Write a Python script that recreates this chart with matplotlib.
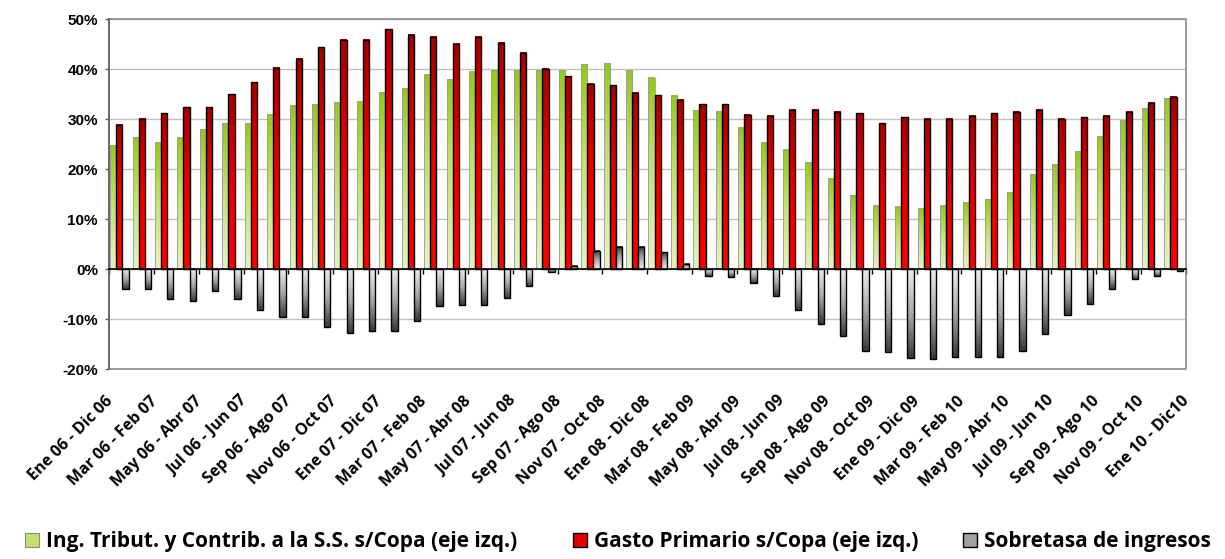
import numpy as np
import matplotlib
matplotlib.use("Agg")
import matplotlib.pyplot as plt
from matplotlib.patches import Patch, Rectangle
from matplotlib.colors import to_rgb
from matplotlib.transforms import blended_transform_factory

# rolling 12-month windows, % of GDP; one bar group per window
ingresos = [24.8, 26.3, 25.4, 26.3, 28.0, 29.2, 29.2, 31.0, 32.7, 33.0,
            33.3, 33.6, 35.4, 36.2, 38.9, 38.0, 39.5, 39.8, 39.8, 39.8,
            39.8, 41.0, 41.2, 39.8, 38.3, 34.7, 31.8, 31.6, 28.3, 25.3,
            23.9, 21.3, 18.1, 14.8, 12.7, 12.5, 12.1, 12.7, 13.4, 14.0,
            15.4, 19.0, 21.0, 23.6, 26.6, 29.8, 32.2, 34.2]
gasto = [28.9, 30.1, 31.2, 32.4, 32.4, 35.0, 37.4, 40.3, 42.1, 44.4,
         45.9, 45.9, 48.0, 46.9, 46.5, 45.1, 46.5, 45.3, 43.3, 40.1,
         38.6, 37.1, 36.8, 35.3, 34.8, 33.9, 33.0, 33.0, 30.9, 30.7,
         31.9, 31.9, 31.5, 31.2, 29.2, 30.4, 30.1, 30.1, 30.7, 31.2,
         31.5, 31.9, 30.1, 30.4, 30.7, 31.5, 33.3, 34.5]
sobretasa = [-4.0, -4.0, -6.0, -6.3, -4.3, -6.0, -8.1, -9.5, -9.5, -11.6,
             -12.7, -12.4, -12.4, -10.3, -7.4, -7.1, -7.1, -5.7, -3.3, -0.5,
             0.7, 3.7, 4.5, 4.5, 3.4, 1.1, -1.3, -1.6, -2.8, -5.3,
             -8.1, -10.9, -13.3, -16.3, -16.5, -17.8, -18.0, -17.5, -17.5, -17.5,
             -16.3, -13.0, -9.2, -6.9, -3.9, -1.9, -1.3, -0.4]

tick_labels = ["Ene 06 - Dic 06", "Mar 06 - Feb 07", "May 06 - Abr 07", "Jul 06 - Jun 07",
               "Sep 06 - Ago 07", "Nov 06 - Oct 07", "Ene 07 - Dic 07", "Mar 07 - Feb 08",
               "May 07 - Abr 08", "Jul 07 - Jun 08", "Sep 07 - Ago 08", "Nov 07 - Oct 08",
               "Ene 08 - Dic 08", "Mar 08 - Feb 09", "May 08 - Abr 09", "Jul 08 - Jun 09",
               "Sep 08 - Ago 09", "Nov 08 - Oct 09", "Ene 09 - Dic 09", "Mar 09 - Feb 10",
               "May 09 - Abr 10", "Jul 09 - Jun 10", "Sep 09 - Ago 10", "Nov 09 - Oct 10",
               "Ene 10 - Dic10"]
y_ticks = [-20, -10, 0, 10, 20, 30, 40, 50]
y_tick_labels = ["-20%", "-10%", "0%", "10%", "20%", "30%", "40%", "50%"]
series_names = ["Ing. Tribut. y Contrib. a la S.S. s/Copa (eje izq.)",
                "Gasto Primario s/Copa (eje izq.)",
                "Sobretasa de ingresos"]

W, H = 1225, 559


def gradient_fill(ax, bars, stops, z):
    """Paint each bar with a vertical gradient: stops[0] at the base, stops[-1] at the tip."""
    pos = np.linspace(0, 1, len(stops))
    cols = np.array([to_rgb(c) for c in stops])
    t = np.linspace(0, 1, 64)
    arr = np.stack([np.interp(t, pos, cols[:, k]) for k in range(3)], axis=1)[:, None, :]
    for b in bars:
        x0, w, h = b.get_x(), b.get_width(), b.get_height()
        if h == 0:
            continue
        ax.imshow(arr, extent=(x0, x0 + w, 0, h), origin="lower", aspect="auto",
                  interpolation="bilinear", zorder=z)


fig = plt.figure(figsize=(W / 100, H / 100), dpi=100)
ax = fig.add_axes([109 / W, (H - 369.3) / H, 1076.7 / W, 350 / H])

n = len(ingresos)
x = np.arange(n)
bw = 0.28

b1 = ax.bar(x + 0.19, ingresos, bw, facecolor="none", edgecolor="#9a9a9a", linewidth=0.6, zorder=2.05)
gradient_fill(ax, b1, ["#e6f3bd", "#c6e27a", "#96c81e"], 2.0)
b2 = ax.bar(x + 0.46, gasto, bw, facecolor="none", edgecolor="black", linewidth=1.0, zorder=2.15)
gradient_fill(ax, b2, ["#ff0000", "#e80000", "#a80000"], 2.1)
b3 = ax.bar(x + 0.73, sobretasa, bw, facecolor="none", edgecolor="black", linewidth=1.0, zorder=2.25)
gradient_fill(ax, b3, ["#ececec", "#a8a8a8", "#383838"], 2.2)

ax.set_xlim(0, n)
ax.set_ylim(-20, 50)

# value axis
ax.set_yticks(y_ticks)
ax.set_yticklabels(y_tick_labels, fontfamily="Liberation Sans", fontweight="bold", fontsize=11)
ax.tick_params(axis="y", direction="out", length=3, width=1, color="#606060", pad=5)
ax.yaxis.grid(True, color="#c0c0c0", linewidth=1)
ax.set_axisbelow(True)

# category axis crosses at zero
ax.spines["bottom"].set_position(("data", 0))
ax.spines["bottom"].set_color("black")
ax.spines["bottom"].set_linewidth(1.2)
ax.spines["bottom"].set_zorder(3)
ax.spines["left"].set_color("#606060")
ax.spines["left"].set_linewidth(1.2)
ax.spines["top"].set_visible(False)
ax.spines["right"].set_visible(False)
ax.set_xticks(np.arange(0, n + 1, 2))
ax.tick_params(axis="x", direction="out", length=3.5, width=1, color="black", labelbottom=False)
ax.add_patch(Rectangle((0, 0), 1, 1, transform=ax.transAxes, fill=False,
                       edgecolor="#8c8c8c", linewidth=1.2, clip_on=False, zorder=1))

trans = blended_transform_factory(ax.transData, ax.transAxes)
for i, lab in enumerate(tick_labels):
    ax.text(2 * i - 0.2, -(393 - 369.3) / 350, lab, transform=trans, rotation=45,
            rotation_mode="anchor", ha="right", va="top",
            fontfamily="Open Sans", fontweight="bold", fontsize=11.5)

# legend row under the labels
handles = [Patch(facecolor="#c2df72", edgecolor="#8a8a8a", linewidth=0.8),
           Patch(facecolor="#e00000", edgecolor="black", linewidth=1.0),
           Patch(facecolor="#a0a0a0", edgecolor="black", linewidth=1.0)]
legend_x = [25, 573, 963]
for h, name, lx in zip(handles, series_names, legend_x):
    fig.legend(handles=[h], labels=[name], loc="center left",
               bbox_to_anchor=(lx / W, 1 - 542 / H), frameon=False,
               prop={"family": "Open Sans", "weight": "bold", "size": 15},
               handlelength=0.65, handleheight=0.65, handletextpad=0.35,
               borderpad=0, borderaxespad=0)

fig.savefig("out.png", dpi=100)
